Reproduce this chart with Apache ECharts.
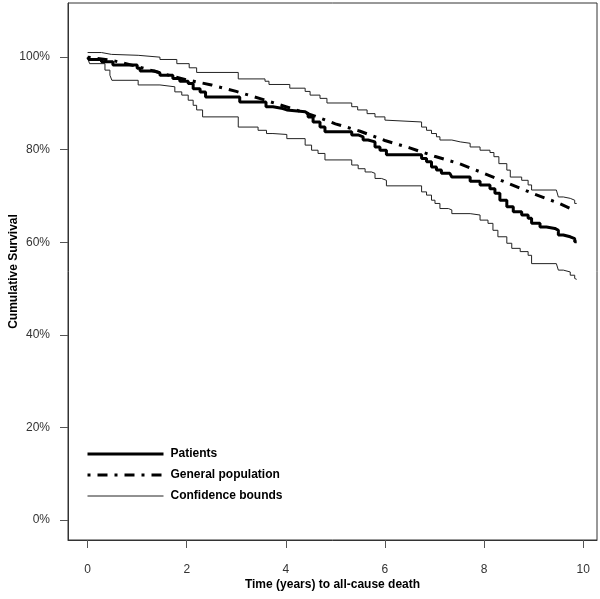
<!DOCTYPE html>
<html>
<head>
<meta charset="utf-8">
<script src="https://cdn.jsdelivr.net/npm/echarts@6/dist/echarts.min.js"></script>
<style>html,body{margin:0;padding:0;background:#fff}#c{width:600px;height:599px}</style>
</head>
<body>
<div id="c"></div>
<script>
// ---- data ----
var xTicks = [0, 2, 4, 6, 8, 10];
var yTicks = [0, 20, 40, 60, 80, 100];

var patientsT = [0, 0.03, 0.28, 0.51, 1.0, 1.06, 1.36, 1.46, 1.72, 1.86, 2.03, 2.13, 2.27, 2.38, 3.07, 3.6, 3.74, 3.94, 4.02, 4.39, 4.45, 4.55, 4.69, 4.79, 5.33, 5.46, 5.56, 5.66, 5.80, 5.90, 6.03, 6.74, 6.84, 6.94, 7.04, 7.14, 7.31, 7.35, 7.72, 7.92, 8.12, 8.22, 8.32, 8.46, 8.59, 8.76, 8.89, 8.96, 9.13, 9.26, 9.43, 9.50, 9.60, 9.74, 9.83, 9.87];
var patientsS = [100, 99.5, 99.0, 98.3, 97.6, 97.0, 96.6, 96.1, 95.4, 94.8, 94.3, 93.2, 92.5, 91.4, 90.3, 89.3, 88.9, 88.6, 88.2, 87.8, 87.1, 86.0, 84.9, 83.9, 83.2, 82.8, 82.1, 81.7, 80.6, 79.9, 78.9, 78.1, 77.4, 76.3, 75.6, 74.9, 74.5, 74.1, 73.2, 72.4, 71.6, 70.6, 69.1, 67.7, 66.6, 65.9, 65.2, 64.1, 63.3, 63.0, 62.6, 61.6, 61.2, 60.8, 60.1, 60.1];

var generalT = [0, 0.5, 1, 1.5, 2, 2.5, 3, 3.5, 4, 4.5, 5, 5.5, 6, 6.5, 7, 7.5, 8, 8.5, 9, 9.5, 9.85];
var generalS = [100, 99.3, 98.0, 96.5, 95.1, 94.0, 92.6, 91.0, 89.3, 87.6, 85.6, 84.0, 82.0, 80.4, 78.6, 77.0, 74.9, 72.7, 70.5, 68.5, 66.8];

var upperT = [0, 0.28, 0.48, 1.02, 1.46, 1.8, 2.05, 2.2, 3.04, 3.58, 3.66, 4.08, 4.39, 4.49, 4.69, 4.83, 5.33, 5.45, 5.64, 5.80, 6.0, 6.03, 6.74, 6.84, 6.94, 7.04, 7.11, 7.35, 7.52, 7.72, 7.92, 8.12, 8.2, 8.3, 8.46, 8.53, 8.76, 8.89, 8.96, 9.46, 9.50, 9.60, 9.74, 9.83, 9.87];
var upperS = [101.0, 100.6, 100.4, 100.0, 99.5, 98.6, 97.7, 96.7, 95.3, 94.8, 94.1, 93.3, 92.6, 91.8, 91.1, 90.1, 89.3, 88.6, 87.8, 87.1, 86.4, 86.0, 84.9, 84.2, 83.5, 82.8, 82.1, 81.7, 81.4, 80.6, 79.9, 79.4, 78.5, 77.0, 75.6, 74.1, 73.4, 72.4, 71.3, 70.9, 69.8, 69.5, 69.1, 68.4, 68.4];

var lowerT = [0, 0.04, 0.35, 0.45, 0.49, 1.02, 1.46, 1.76, 1.90, 2.03, 2.13, 2.2, 2.32, 3.04, 3.44, 3.61, 3.74, 4.02, 4.39, 4.52, 4.65, 4.79, 5.33, 5.46, 5.60, 5.73, 5.80, 5.93, 6.03, 6.74, 6.84, 6.94, 7.01, 7.11, 7.28, 7.35, 7.72, 7.92, 8.08, 8.18, 8.28, 8.46, 8.56, 8.73, 8.89, 8.96, 9.46, 9.50, 9.60, 9.74, 9.83, 9.87];
var lowerS = [99.8, 98.6, 97.2, 96.1, 95.0, 94.0, 93.6, 92.5, 91.8, 90.7, 89.6, 88.6, 87.1, 84.9, 84.2, 83.5, 83.3, 82.4, 81.0, 79.9, 79.2, 77.8, 76.7, 75.9, 75.2, 74.9, 73.8, 73.4, 72.2, 70.9, 70.2, 69.1, 68.4, 67.3, 67.0, 66.2, 65.9, 64.8, 64.1, 62.6, 61.2, 59.8, 58.7, 58.0, 57.2, 55.4, 55.1, 54.0, 53.6, 52.9, 52.2, 52.0];

var legendNames = ['Patients', 'General population', 'Confidence bounds'];
var xTitle = 'Time (years) to all-cause death';
var yTitle = 'Cumulative Survival';

function pairs(t, s) { return t.map(function (v, i) { return [v, s[i]]; }); }

var FONT = '"Liberation Sans", Arial, sans-serif';
var dotdash = [3, 7, 10, 7];
var hideSym = { opacity: 0, borderWidth: 0 };

var chart = echarts.init(document.getElementById('c'), null, { renderer: 'canvas' });
chart.setOption({
  animation: false,
  backgroundColor: '#ffffff',
  grid: { left: 68, right: 3, top: 3, bottom: 59, outerBoundsMode: 'none', containLabel: false,
    show: true, borderColor: '#333', borderWidth: 1, backgroundColor: 'transparent' },
  xAxis: {
    type: 'value', min: -0.396, max: 10.28,
    name: xTitle, nameLocation: 'middle', nameGap: 39, nameMoveOverlap: false,
    nameTextStyle: { fontFamily: FONT, fontSize: 12, fontWeight: 'bold', color: '#000' },
    axisLine: { show: true, onZero: false, lineStyle: { color: '#333', width: 1 } },
    splitLine: { show: false },
    axisTick: { show: true, length: 8, customValues: xTicks, lineStyle: { color: '#555' } },
    axisLabel: { customValues: xTicks, margin: 24, fontFamily: FONT, fontSize: 12, color: '#333' }
  },
  yAxis: {
    type: 'value', min: -4.3, max: 111.7,
    name: yTitle, nameLocation: 'middle', nameGap: 48, nameRotate: 90, nameMoveOverlap: false,
    nameTextStyle: { fontFamily: FONT, fontSize: 12, fontWeight: 'bold', color: '#000' },
    axisLine: { show: true, onZero: false, lineStyle: { color: '#333', width: 1 } },
    splitLine: { show: false },
    axisTick: { show: true, length: 8, customValues: yTicks, lineStyle: { color: '#555' } },
    axisLabel: { customValues: yTicks, margin: 18, fontFamily: FONT, fontSize: 12, color: '#333',
      formatter: function (v) { return v + '%'; } }
  },
  legend: {
    left: 81, top: 443, orient: 'vertical', itemWidth: 76, itemHeight: 14, itemGap: 9,
    selectedMode: false,
    textStyle: { fontFamily: FONT, fontSize: 12, fontWeight: 'bold', color: '#000', padding: [0, 0, 0, 2] },
    data: [
      { name: legendNames[0], itemStyle: hideSym, lineStyle: { width: 3, color: '#000', type: 'solid' } },
      { name: legendNames[1], itemStyle: hideSym, lineStyle: { width: 3, color: '#000', type: dotdash } },
      { name: legendNames[2], itemStyle: hideSym, lineStyle: { width: 1, color: '#222', type: 'solid' } }
    ]
  },
  series: [
    { name: legendNames[2], type: 'line', step: 'end', symbol: 'none', data: pairs(upperT, upperS),
      lineStyle: { width: 1, color: '#222' }, itemStyle: { color: '#222' }, z: 2 },
    { name: legendNames[2], type: 'line', step: 'end', symbol: 'none', data: pairs(lowerT, lowerS),
      lineStyle: { width: 1, color: '#222' }, itemStyle: { color: '#222' }, z: 2 },
    { name: legendNames[1], type: 'line', symbol: 'none', smooth: false, data: pairs(generalT, generalS),
      lineStyle: { width: 3, color: '#000', type: dotdash, cap: 'butt' }, itemStyle: { color: '#000' }, z: 3 },
    { name: legendNames[0], type: 'line', step: 'end', symbol: 'none', data: pairs(patientsT, patientsS),
      lineStyle: { width: 3, color: '#000' }, itemStyle: { color: '#000' }, z: 4 }
  ]
});
</script>
</body>
</html>
